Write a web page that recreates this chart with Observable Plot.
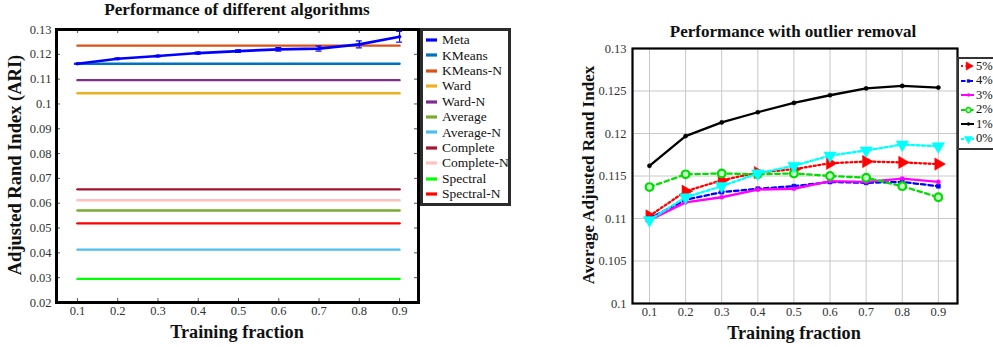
<!DOCTYPE html>
<html><head><meta charset="utf-8">
<script src="https://cdn.jsdelivr.net/npm/d3@7"></script>
<script src="https://cdn.jsdelivr.net/npm/@observablehq/plot@0.6"></script>
<style>
html,body{margin:0;padding:0;background:#fff;overflow:hidden;}
#root{position:relative;width:993px;height:347px;overflow:hidden;font-family:"Liberation Serif","Times New Roman","DejaVu Serif",serif;color:#111;}
.abs{position:absolute;line-height:1;white-space:nowrap;}
.bold{font-weight:bold;}
.c{transform:translate(-50%,-50%);}
.r{transform:translate(-50%,-50%) rotate(-90deg);}
.legend{position:absolute;background:#fff;box-sizing:border-box;overflow:hidden;}
.legend .row{position:absolute;left:0;display:flex;align-items:center;font-size:13px;line-height:1;white-space:nowrap;}
</style></head><body><div id="root"></div>
<script>
// ---------- data: left chart ----------
const fractions = [0.1, 0.2, 0.3, 0.4, 0.5, 0.6, 0.7, 0.8, 0.9];
const metaValues = [0.1162, 0.1182, 0.1193, 0.1205, 0.1213, 0.1220, 0.1223, 0.1240, 0.1271];
const metaErrors = [0.0002, 0.0003, 0.0003, 0.0004, 0.0005, 0.0007, 0.0010, 0.0014, 0.0022];
const baselineNames = ["KMeans", "KMeans-N", "Ward", "Ward-N", "Average", "Average-N", "Complete", "Complete-N", "Spectral", "Spectral-N"];
const baselineValues = [0.1162, 0.1235, 0.1043, 0.1096, 0.0571, 0.0413, 0.0656, 0.0612, 0.0295, 0.0519];
const algoNames = ["Meta", ...baselineNames];
const algoColors = ["#0000ff", "#0072bd", "#d95319", "#edb120", "#7e2f8e", "#77ac30", "#4dbeee", "#a2142f", "#ffc0c0", "#00ff00", "#ff0000"];
const leftYTicks = [0.02, 0.03, 0.04, 0.05, 0.06, 0.07, 0.08, 0.09, 0.1, 0.11, 0.12, 0.13];

// ---------- data: right chart ----------
const outlierLabels = ["5%", "4%", "3%", "2%", "1%", "0%"];
const outlier5 = [0.1103, 0.1132, 0.1145, 0.1154, 0.1158, 0.1165, 0.1167, 0.1166, 0.1164];
const outlier4 = [0.1100, 0.1122, 0.1131, 0.1135, 0.1138, 0.1143, 0.1142, 0.1143, 0.1138];
const outlier3 = [0.1098, 0.1119, 0.1125, 0.1134, 0.1135, 0.1144, 0.1143, 0.1147, 0.1143];
const outlier2 = [0.1137, 0.1152, 0.1153, 0.1152, 0.1153, 0.1150, 0.1148, 0.1138, 0.1125];
const outlier1 = [0.1162, 0.1197, 0.1213, 0.1225, 0.1236, 0.1245, 0.1253, 0.1256, 0.1254];
const outlier0 = [0.1098, 0.1125, 0.1138, 0.1153, 0.1162, 0.1174, 0.1180, 0.1187, 0.1185];
const rightYTicks = [0.1, 0.105, 0.11, 0.115, 0.12, 0.125, 0.13];

// ---------- styles ----------
const outlierColors = ["#ff0000", "#0000ff", "#ff00ff", "#00dd00", "#000000", "#00ffff"];
const outlierDash = ["2,2.6", "4.5,3", null, "4.5,3.5", null, "3,2.4"];
const outlierSymbols = ["triangle", "square", "circle", "circle", "circle", "triangle"];
const outlierRotate = [90, 0, 0, 0, 0, 180];
const outlierR = [4.6, 2.3, 2.1, 3.8, 2.1, 4.6];
const outlierFill = ["#ff0000", "#0000ff", "#ff00ff", "#c8ffc8", "#000000", "#00ffff"];

const root = document.getElementById("root");
const font = '"Liberation Serif", "Times New Roman", "DejaVu Serif", serif';
const fmt = d => String(d);

function addText(txt, x, y, cls, size) {
  const d = document.createElement("div");
  d.className = "abs " + cls;
  d.style.left = x + "px"; d.style.top = y + "px"; d.style.fontSize = size + "px";
  d.textContent = txt;
  root.appendChild(d);
}

// ---------- left plot ----------
const L = {w: 520, h: 347, ml: 56, mr: 102, mt: 29, mb: 45};
const LH = L.h - L.mt - L.mb, LW = L.w - L.ml - L.mr;
const metaData = fractions.map((x, i) => ({x, y: metaValues[i], e: metaErrors[i]}));
const baseData = baselineNames.flatMap((name, i) => fractions.map(x => ({name, x, y: baselineValues[i]})));
const left = Plot.plot({
  width: L.w, height: L.h, marginLeft: L.ml, marginRight: L.mr, marginTop: L.mt, marginBottom: L.mb,
  x: {domain: [0.048, 0.947]},
  y: {domain: [0.02, 0.13]},
  color: {domain: algoNames, range: algoColors},
  style: {fontFamily: font, fontSize: "12.5px", color: "#333", background: "transparent", overflow: "visible"},
  marks: [
    Plot.axisX(fractions, {tickSize: 0, tickPadding: 4, label: null, tickFormat: fmt, fontFamily: font}),
    Plot.axisY(leftYTicks, {tickSize: 0, tickPadding: 5, label: null, tickFormat: fmt, fontFamily: font}),
    Plot.ruleX(fractions, {x: d => d, insetTop: LH - 4, stroke: "#555"}),
    Plot.ruleX(fractions, {x: d => d, insetBottom: LH - 4, stroke: "#555"}),
    Plot.ruleY(leftYTicks, {y: d => d, insetRight: LW - 4, stroke: "#555"}),
    Plot.ruleY(leftYTicks, {y: d => d, insetLeft: LW - 4, stroke: "#555"}),
    Plot.line(baseData, {x: "x", y: "y", z: "name", stroke: "name", strokeWidth: 2.4}),
    Plot.ruleX(metaData, {x: "x", y1: d => d.y - d.e, y2: d => d.y + d.e, stroke: "#0000ff", strokeWidth: 1.2}),
    Plot.ruleY(metaData, {y: d => d.y + d.e, x1: "x", x2: "x", insetLeft: -3, insetRight: -3, stroke: "#0000ff", strokeWidth: 1.2}),
    Plot.ruleY(metaData, {y: d => d.y - d.e, x1: "x", x2: "x", insetLeft: -3, insetRight: -3, stroke: "#0000ff", strokeWidth: 1.2}),
    Plot.line(metaData, {x: "x", y: "y", stroke: "#0000ff", strokeWidth: 2.6}),
    Plot.dot(metaData, {x: "x", y: "y", r: 1.8, fill: "#0000ff"}),
    Plot.frame({stroke: "#000", strokeWidth: 3})
  ]
});
left.style.position = "absolute"; left.style.left = "0px"; left.style.top = "0px";
root.appendChild(left);

// ---------- right plot ----------
const R = {x0: 560, w: 433, h: 347, ml: 72, mr: 36, mt: 48, mb: 44};
const outlierSeries = [outlier5, outlier4, outlier3, outlier2, outlier1, outlier0];
const rightMarks = [
  Plot.gridX(fractions, {stroke: "#c8c8c8", strokeOpacity: 1, strokeWidth: 1}),
  Plot.gridY(rightYTicks, {stroke: "#c8c8c8", strokeOpacity: 1, strokeWidth: 1}),
  Plot.axisX(fractions, {tickSize: 0, tickPadding: 4, label: null, tickFormat: fmt, fontFamily: font}),
  Plot.axisY(rightYTicks, {tickSize: 0, tickPadding: 6, label: null, tickFormat: fmt, fontFamily: font})
];
outlierSeries.forEach((vals, i) => {
  const rows = fractions.map((x, j) => ({x, y: vals[j]}));
  rightMarks.push(Plot.line(rows, {x: "x", y: "y", stroke: outlierColors[i], strokeWidth: 2.3, strokeDasharray: outlierDash[i]}));
  rightMarks.push(Plot.dot(rows, {x: "x", y: "y", symbol: outlierSymbols[i], rotate: outlierRotate[i], r: outlierR[i],
    fill: outlierFill[i], stroke: outlierColors[i], strokeWidth: i === 3 ? 2.2 : 0.5}));
});
rightMarks.push(Plot.frame({stroke: "#000", strokeWidth: 2.2}));
const right = Plot.plot({
  width: R.w, height: R.h, marginLeft: R.ml, marginRight: R.mr, marginTop: R.mt, marginBottom: R.mb,
  x: {domain: [0.053, 0.953]},
  y: {domain: [0.1, 0.13]},
  style: {fontFamily: font, fontSize: "12.5px", color: "#333", background: "transparent", overflow: "visible"},
  marks: rightMarks
});
right.style.position = "absolute"; right.style.left = R.x0 + "px"; right.style.top = "0px";
root.appendChild(right);

// ---------- titles & axis labels ----------
addText("Performance of different algorithms", 237, 9.5, "bold c", 17.2);
addText("Adjusted Rand Index (ARI)", 15, 165, "bold r", 18.5);
addText("Training fraction", 237, 332, "bold c", 18.2);
addText("Performance with outlier removal", 793, 31, "bold c", 17);
addText("Average Adjusted Rand Index", 588, 175, "bold r", 17);
addText("Training fraction", 794, 333, "bold c", 18.2);

// ---------- legends ----------
function legend(box, items) {
  const d = document.createElement("div");
  d.className = "legend";
  Object.assign(d.style, box.style);
  items.forEach((it, i) => {
    const row = document.createElement("div");
    row.className = "row";
    row.style.top = (box.first + i * box.step - 7) + "px";
    row.style.height = "14px";
    row.style.left = box.swLeft + "px";
    row.style.fontSize = box.font + "px";
    row.appendChild(it.swatch);
    const t = document.createElement("span");
    t.textContent = it.label; t.style.marginLeft = box.gap + "px";
    row.appendChild(t);
    d.appendChild(row);
  });
  root.appendChild(d);
}
function lineSwatch(color, w, dash, symbol, rotate, r, fill, sw) {
  const svg = d3.create("svg").attr("width", w).attr("height", 14).style("overflow", "visible").style("flex", "none");
  svg.append("line").attr("x1", 0).attr("x2", w).attr("y1", 7).attr("y2", 7)
    .attr("stroke", color).attr("stroke-width", symbol ? 2 : 3.2).attr("stroke-dasharray", dash || null);
  if (symbol) {
    const sym = {triangle: d3.symbolTriangle, square: d3.symbolSquare, circle: d3.symbolCircle}[symbol];
    svg.append("path").attr("d", d3.symbol(sym, Math.PI * r * r * 0.8)())
      .attr("transform", `translate(${w / 2 + 1},7) rotate(${rotate})`)
      .attr("fill", fill).attr("stroke", color).attr("stroke-width", sw);
  }
  return svg.node();
}
legend({style: {left: "420px", top: "28px", width: "91px", height: "178px", border: "3px solid #2b2b2b"},
        first: 9, step: 15.4, swLeft: 3, gap: 5, font: 13.5},
  algoNames.map((n, i) => ({label: n, swatch: lineSwatch(algoColors[i], 11, null)})));
legend({style: {left: "957px", top: "57px", width: "60px", height: "93px", border: "2px solid #333"},
        first: 7, step: 14.5, swLeft: 2, gap: 2, font: 12.5},
  outlierLabels.map((n, i) => ({label: n, swatch: lineSwatch(outlierColors[i], 13, outlierDash[i], outlierSymbols[i], outlierRotate[i], outlierR[i] * 0.75, outlierFill[i], i === 3 ? 1.5 : 0.5)})));
</script>
</body></html>
